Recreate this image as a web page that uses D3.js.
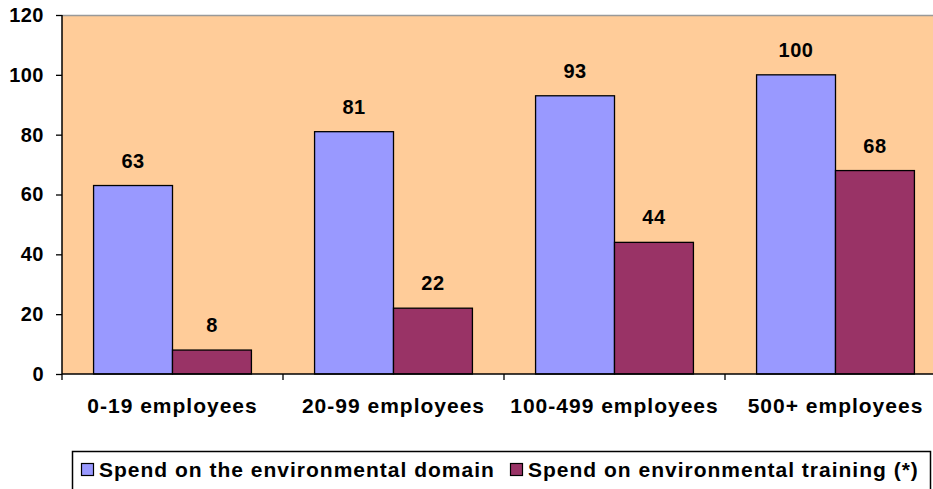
<!DOCTYPE html>
<html><head><meta charset="utf-8">
<script src="https://cdn.jsdelivr.net/npm/d3@7"></script>
<style>body{margin:0;background:#fff}svg{display:block;font-family:"Liberation Sans",Arial,sans-serif;font-weight:bold}</style>
</head><body><svg id="c" width="933" height="489"></svg>
<script>
const categories = ["0-19 employees","20-99 employees","100-499 employees","500+ employees"];
const seriesNames = ["Spend on the environmental domain","Spend on environmental training (*)"];
const domainSpend = [63,81,93,100];
const trainingSpend = [8,22,44,68];
const yTicks = [0,20,40,60,80,100,120];
const colors = ["#9999FF","#993366"];

const svg = d3.select("#c");
const m = {l:62, t:15, r:946, b:374};
const x = d3.scaleBand().domain(categories).range([m.l, m.r]).paddingInner(0).paddingOuter(0);
const y = d3.scaleLinear().domain([0,120]).range([m.b, m.t]);
const bw = x.bandwidth()/2.8;
const gap = (x.bandwidth()-2*bw)/2;

svg.append("rect").attr("x",m.l).attr("y",m.t).attr("width",m.r-m.l).attr("height",m.b-m.t)
  .attr("fill","#FFCC99");
svg.append("line").attr("x1",m.l).attr("x2",m.r).attr("y1",m.t+0.5).attr("y2",m.t+0.5).attr("stroke","#999").attr("stroke-width",1.5);

const series = [domainSpend, trainingSpend];
series.forEach((vals,si)=>{
  svg.append("g").selectAll("rect").data(vals).join("rect")
    .attr("x",(d,i)=>x(categories[i])+gap+si*bw)
    .attr("y",d=>y(d)).attr("width",bw).attr("height",d=>y(0)-y(d))
    .attr("fill",colors[si]).attr("stroke","#000").attr("stroke-width",1.3);
  svg.append("g").selectAll("text").data(vals).join("text")
    .attr("x",(d,i)=>x(categories[i])+gap+si*bw+bw/2)
    .attr("y",d=>y(d)-18).attr("text-anchor","middle").attr("font-size",20)
    .attr("letter-spacing",0.5).text(d=>d);
});

// y axis
const ya = svg.append("g").attr("transform",`translate(${m.l},0)`)
  .call(d3.axisLeft(y).tickValues(yTicks).tickSize(6).tickPadding(12));
ya.select(".domain").attr("stroke","#000").attr("stroke-width",1.5).attr("d",`M0,${m.t}V${m.b}`);
ya.selectAll("text").attr("font-size",20).attr("font-family","Liberation Sans, Arial").attr("font-weight","bold").attr("fill","#000").attr("letter-spacing",0.5);
ya.selectAll(".tick line").attr("stroke","#000").attr("stroke-width",1.3);

// x axis
const xa = svg.append("g").attr("transform",`translate(0,${m.b})`);
xa.append("line").attr("x1",m.l).attr("x2",m.r).attr("stroke","#000").attr("stroke-width",1.5);
const bounds = categories.map(c=>x(c)).concat([m.r]);
xa.selectAll("line.t").data(bounds).join("line").attr("class","t")
  .attr("x1",d=>d).attr("x2",d=>d).attr("y1",0).attr("y2",6).attr("stroke","#000").attr("stroke-width",1.3);
xa.selectAll("text").data(categories).join("text")
  .attr("x",d=>x(d)+x.bandwidth()/2).attr("y",39).attr("text-anchor","middle")
  .attr("font-size",21).attr("letter-spacing",1).text(d=>d);

// legend
const lg = svg.append("g");
lg.append("rect").attr("x",72.5).attr("y",451.5).attr("width",858).attr("height",60)
  .attr("fill","#fff").attr("stroke","#000").attr("stroke-width",1.5);
const lx = [81, 510];
seriesNames.forEach((n,i)=>{
  lg.append("rect").attr("x",lx[i]+0.5).attr("y",463.5).attr("width",12).attr("height",12)
    .attr("fill",colors[i]).attr("stroke","#000").attr("stroke-width",1.2);
  lg.append("text").attr("x",lx[i]+18).attr("y",477).attr("font-size",21).attr("letter-spacing",1).text(n);
});
</script></body></html>
